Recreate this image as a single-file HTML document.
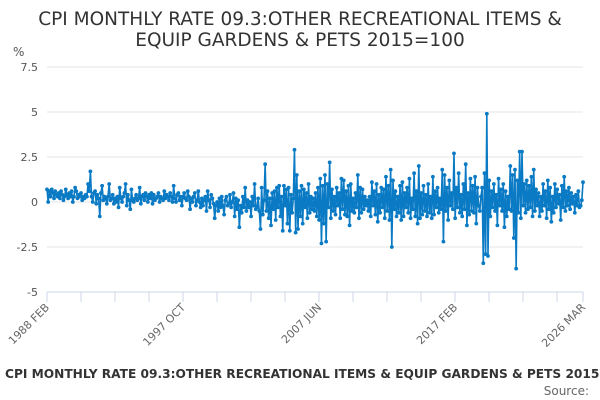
<!DOCTYPE html>
<html><head><meta charset="utf-8"><style>
body{margin:0;width:600px;height:400px;background:#fff;overflow:hidden;font-family:"DejaVu Sans",sans-serif}
svg{display:block;font-family:"DejaVu Sans",sans-serif}
</style></head><body>
<svg id="chart" width="600" height="400" xmlns="http://www.w3.org/2000/svg">
<text x="300" y="25" text-anchor="middle" font-size="18.5" fill="#333">CPI MONTHLY RATE 09.3:OTHER RECREATIONAL ITEMS &amp;</text>
<text x="300" y="46" text-anchor="middle" font-size="18.5" fill="#333">EQUIP GARDENS &amp; PETS 2015=100</text>
<text x="13" y="56" font-size="12" fill="#555">%</text>
<g id="grid"></g><g id="xaxis"></g><g id="series"></g>
<text x="5" y="378" font-size="12.2" font-weight="bold" fill="#333">CPI MONTHLY RATE 09.3:OTHER RECREATIONAL ITEMS &amp; EQUIP GARDENS &amp; PETS 2015=100</text>
<text x="589" y="395" text-anchor="end" font-size="12" fill="#666">Source:</text>
</svg>
<script>
const yTicks=[7.5,5,2.5,0,-2.5,-5];
const yTickLabels=["7.5","5","2.5","0","-2.5","-5"];
const xLabels=["1988 FEB","1997 OCT","2007 JUN","2017 FEB","2026 MAR"];
const xLabelIdx=[0,116,232,348,457];
const values=[
0.7,0.0,0.6,0.3,0.7,0.5,0.2,0.6,0.4,0.3,0.5,
0.2,0.6,0.4,0.1,0.3,0.7,0.4,0.2,0.5,0.3,0.6,0.0,
0.3,0.8,0.6,0.2,0.4,0.3,0.5,0.1,0.3,0.2,0.4,0.3,
1.0,0.6,1.7,0.3,0.0,0.5,0.6,-0.1,0.4,0.2,-0.8,0.5,
0.9,0.1,0.3,0.2,-0.1,0.3,1.0,0.1,0.2,0.4,-0.1,0.2,
0.0,0.3,-0.3,0.8,0.2,0.0,0.3,0.5,1.0,-0.2,0.4,0.1,
-0.4,0.7,0.1,0.0,0.2,0.4,0.1,0.2,0.8,-0.1,0.3,0.4,
0.1,0.5,0.3,0.0,0.4,0.2,0.5,-0.1,0.4,0.1,0.2,0.3,
0.5,0.0,0.3,0.2,0.1,0.6,0.2,0.4,0.3,0.1,0.5,0.3,
0.0,0.9,0.2,0.0,0.4,0.5,0.1,0.3,-0.2,0.3,0.5,0.2,
0.1,0.6,0.3,-0.4,0.2,0.0,0.3,0.5,-0.2,0.1,0.6,0.0,
-0.3,0.2,-0.2,0.1,0.3,-0.5,0.6,0.1,-0.3,0.4,0.2,-0.1,
-0.9,-0.2,0.0,-0.5,0.2,-0.3,0.3,-0.2,-0.7,0.1,0.3,-0.2,
-0.1,0.4,-0.3,0.0,0.5,-0.8,0.2,-0.4,0.1,-1.4,-0.2,-0.6,
0.3,-0.3,0.8,-0.5,0.1,-0.3,0.0,-0.8,0.3,-0.2,1.0,-0.4,
-0.3,0.2,-0.5,-1.5,0.8,-0.7,0.1,2.1,-0.5,0.6,-0.9,0.2,
-1.3,0.5,-0.4,0.6,-1.0,0.8,-0.3,0.9,-0.8,0.3,-1.6,0.9,
-0.2,0.7,-1.2,0.8,-1.6,0.4,-0.6,0.2,2.9,-1.7,1.5,-1.5,
0.6,-0.8,0.9,-1.2,0.7,-0.3,0.5,-0.9,1.0,-0.6,0.3,-0.4,
0.2,-0.5,0.5,-0.8,0.8,-1.0,1.3,-2.3,0.9,-1.2,1.5,-2.2,
1.0,-0.3,2.2,-0.9,0.7,-0.5,0.3,-0.7,0.8,-0.2,0.5,-0.9,
1.3,-0.4,1.2,-0.7,0.6,-0.8,0.9,-1.3,1.0,-0.5,0.2,-0.6,
0.5,-0.3,1.5,-0.9,0.8,-0.6,0.7,-0.4,0.3,-0.2,0.1,-0.5,
0.3,-0.8,1.1,-0.2,0.6,-0.7,1.0,-1.1,0.4,-0.6,0.8,-0.3,
0.7,-0.9,1.4,-0.5,0.9,-1.0,1.8,-2.5,1.2,-0.4,0.6,-0.8,
0.3,-0.6,0.9,-1.0,1.1,-0.8,0.5,-0.3,0.8,-0.6,1.3,-0.9,
0.2,-0.4,1.6,-0.8,0.6,-1.2,2.0,-0.9,0.5,-0.7,0.9,-0.5,
0.4,-0.8,1.0,-0.6,0.3,-0.9,1.4,-0.7,0.6,-0.3,0.8,-0.6,
0.2,-0.4,1.8,-2.2,1.5,-0.5,0.8,-1.0,1.2,-0.2,0.5,-0.4,
2.7,-0.9,0.8,-0.3,1.6,-0.6,0.4,-0.8,1.0,-0.4,2.1,-1.3,
0.5,-0.7,1.3,-0.5,0.9,-0.6,1.4,-1.2,0.8,-0.2,-0.5,0.3,
0.8,-3.4,1.6,-2.9,4.9,-3.0,1.2,-0.8,0.6,-0.3,1.0,-0.5,
0.4,-1.3,1.3,-0.2,0.7,-0.5,1.0,-1.4,0.6,-0.8,0.3,-0.4,
2.0,-0.5,1.5,-2.0,1.8,-3.7,1.2,-0.6,2.8,-0.9,2.8,-0.2,
1.0,-0.6,1.2,-0.4,0.9,-0.3,1.4,-0.8,1.8,-0.5,0.7,-0.2,
0.5,-0.8,0.3,-0.5,1.0,-0.2,0.6,-0.9,1.2,-0.4,0.8,-1.1,
0.3,-0.6,1.0,-0.3,0.7,-0.1,0.4,-1.0,0.9,-0.3,1.4,-0.5,
0.6,-0.2,0.8,-0.4,0.5,-0.1,0.3,-0.6,0.4,-0.2,0.6,-0.3,
-0.2,0.1,1.1
];
const NS="http://www.w3.org/2000/svg";
const X0=47,X1=583,Y0=292,YT=67;
const yMin=-5,yMax=7.5;
function ys(v){return Y0-(v-yMin)/(yMax-yMin)*(Y0-YT);}
function xs(i){return X0+i*(X1-X0)/(values.length-1);}
function mk(tag,attrs,parent){const e=document.createElementNS(NS,tag);for(const k in attrs)e.setAttribute(k,attrs[k]);parent.appendChild(e);return e;}
const grid=document.getElementById('grid');
yTicks.forEach((t,k)=>{
  const l=mk('line',{x1:X0,x2:X1,y1:ys(t),y2:ys(t),stroke:t===yMin?'#ccd6eb':'#e6e6e6','stroke-width':1},grid);
  
  
  const tx=mk('text',{x:38,y:ys(t)+4,'text-anchor':'end','font-size':11,fill:'#555'},grid);
  tx.textContent=yTickLabels[k];
  
  
});
const xa=document.getElementById('xaxis');
for(let x=X0;x<=X1+0.5;x+=34){
  const t=mk('line',{x1:x,x2:x,y1:Y0,y2:Y0+10,stroke:'#ccd6eb'},xa);
  
  
}
mk('line',{x1:X1,x2:X1,y1:Y0,y2:Y0+10,stroke:'#ccd6eb'},xa);
xLabels.forEach((s,k)=>{
  const x=xs(xLabelIdx[k]);
  const tx=mk('text',{x:x+3,y:Y0+16,'text-anchor':'end','font-size':11,fill:'#666',transform:`rotate(-45 ${x+3} ${Y0+16})`},xa);
  tx.textContent=s;
  
  
});
const sg=document.getElementById('series');
const pts=values.map((v,i)=>xs(i).toFixed(2)+','+ys(v).toFixed(2)).join(' ');
const pl=mk('polyline',{points:pts,fill:'none',stroke:'#0a7ac4','stroke-width':1.6,'stroke-linejoin':'round'},sg);


values.forEach((v,i)=>{
  const c=mk('circle',{cx:xs(i),cy:ys(v),r:1.9,fill:'#0a7ac4'},sg);
  
  
});
</script>
</body></html>
